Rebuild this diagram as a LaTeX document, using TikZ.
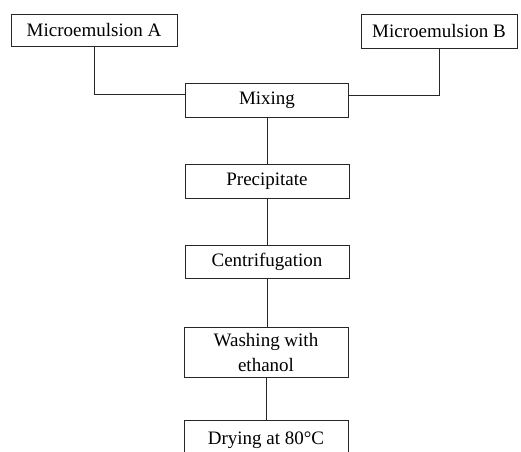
\documentclass[tikz,border=0pt]{standalone}
\usepackage{fontspec}
\setmainfont{Liberation Serif}
\begin{document}
\begin{tikzpicture}[x=1pt,y=-1pt,
  stepbox/.style={draw=black!85,line width=0.9pt,inner sep=0pt,align=center,
    font=\fontsize{19}{25}\selectfont,minimum width=163pt,minimum height=34pt},
  conn/.style={draw=black!85,line width=0.9pt}]
\useasboundingbox (0,0) rectangle (521,451);
\clip (0,0) rectangle (521,451);
\fill[white] (0,0) rectangle (521,451);
\node[stepbox,minimum width=166pt,minimum height=32pt] (A) at (94,30) {Microemulsion A};
\node[stepbox,minimum width=156pt] (B) at (439,31) {Microemulsion B};
\node[stepbox] (mix) at (267,100) {Mixing};
\node[stepbox,minimum width=164pt] (pre) at (267,181) {Precipitate};
\node[stepbox,minimum width=164pt,minimum height=33pt] (cen) at (267,261.5) {Centrifugation};
\node[stepbox,minimum width=164pt,minimum height=50pt] (wash) at (266,352) {Washing with\\ethanol};
\node[stepbox,minimum width=164pt,minimum height=36pt,anchor=north] (dry) at (266,420) {};
\node[font=\fontsize{19}{25}\selectfont,anchor=base] (drytxt) at (266,444) {Drying at 80°C};
\draw[conn] (A.south) |- ([yshift=6pt]mix.west);
\draw[conn] (B.south) |- ([yshift=5pt]mix.east);
\draw[conn] (mix.south) -- (pre.north);
\draw[conn] (pre.south) -- (cen.north);
\draw[conn] (cen.south) -- (cen.south |- wash.north);
\draw[conn] (wash.south) -- (dry.north);
\end{tikzpicture}
\end{document}
